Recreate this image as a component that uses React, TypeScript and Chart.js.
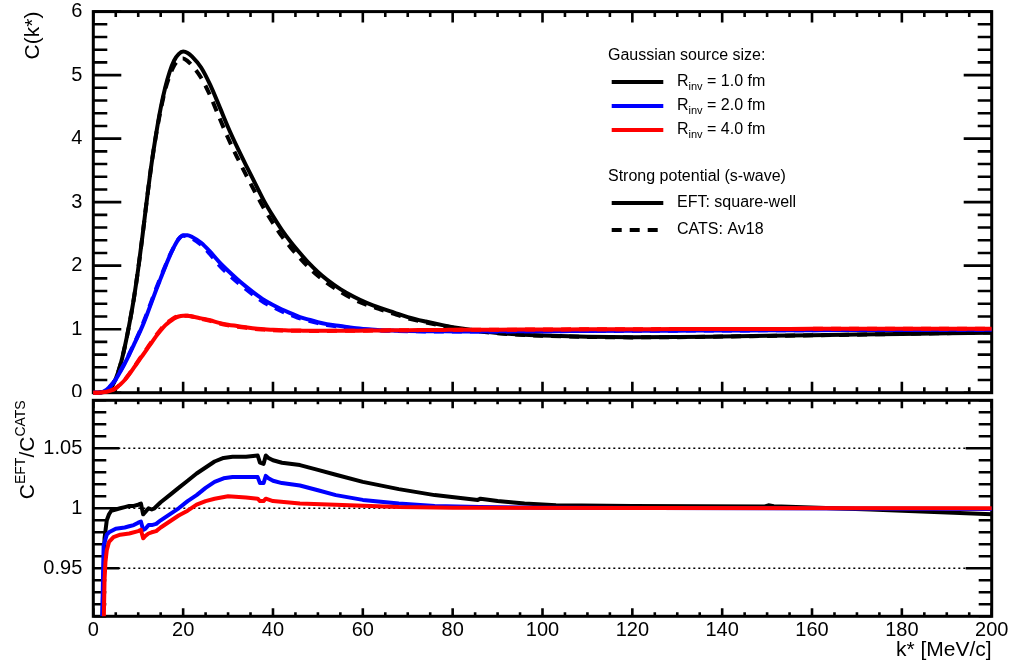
import React, { useEffect, useRef } from "react";
import { Chart, registerables } from "chart.js";

Chart.register(...registerables);

const FONT = "'Liberation Sans', Arial, Helvetica, sans-serif";
const W = 1013;
const TOP_H = 397;
const BOT_TOP = 396;
const BOT_H = 665 - BOT_TOP;

// ---------- upper panel: correlation function C(k*) ----------
const K_TOP = [0, 1, 2, 3, 4, 5, 6, 7, 8, 9, 10, 11, 12, 13, 14, 15, 16, 17, 18, 19, 20, 21, 22,
  24, 26, 28, 30, 32, 34, 36, 38, 40, 42, 44, 46, 48, 50, 52,
  55, 58, 61, 64, 67, 70, 74, 78, 82, 86, 90, 95, 100,
  110, 120, 130, 140, 150, 160, 170, 180, 190, 200];

const C_R1_EFT = [0, 0, 0.01, 0.03, 0.09, 0.22, 0.43, 0.72, 1.07, 1.47, 1.95, 2.5, 3.08, 3.62, 4.08, 4.48, 4.8, 5.05, 5.23, 5.33, 5.37, 5.35, 5.29,
  5.12, 4.85, 4.52, 4.18, 3.87, 3.58, 3.3, 3.02, 2.78, 2.56, 2.37, 2.2, 2.04, 1.9, 1.78,
  1.63, 1.51, 1.41, 1.33, 1.26, 1.19, 1.12, 1.06, 1.01, 0.97, 0.94, 0.915, 0.9,
  0.88, 0.873, 0.876, 0.885, 0.895, 0.905, 0.915, 0.925, 0.935, 0.945];

const C_R1_CATS = [0, 0, 0.01, 0.03, 0.09, 0.22, 0.43, 0.72, 1.07, 1.47, 1.95, 2.5, 3.08, 3.62, 4.07, 4.45, 4.77, 4.99, 5.15, 5.24, 5.26, 5.22, 5.15,
  4.96, 4.68, 4.34, 4.01, 3.71, 3.43, 3.16, 2.9, 2.67, 2.46, 2.28, 2.12, 1.97, 1.84, 1.73,
  1.59, 1.47, 1.38, 1.31, 1.24, 1.17, 1.107, 1.05, 1.0, 0.963, 0.934, 0.911, 0.897,
  0.878, 0.871, 0.874, 0.883, 0.893, 0.903, 0.914, 0.926, 0.937, 0.95];

const C_R2_EFT = [0, 0, 0.01, 0.05, 0.12, 0.21, 0.33, 0.46, 0.6, 0.75, 0.9, 1.06, 1.24, 1.43, 1.62, 1.8, 1.98, 2.15, 2.3, 2.42, 2.48, 2.48, 2.45,
  2.36, 2.22, 2.06, 1.92, 1.79, 1.67, 1.56, 1.46, 1.38, 1.31, 1.25, 1.19, 1.15, 1.11, 1.08,
  1.05, 1.02, 1.0, 0.985, 0.977, 0.972, 0.968, 0.966, 0.965, 0.965, 0.966, 0.967, 0.968,
  0.971, 0.974, 0.977, 0.98, 0.982, 0.985, 0.987, 0.989, 0.991, 0.992];

const C_R2_CATS = [0, 0, 0.01, 0.05, 0.12, 0.21, 0.34, 0.47, 0.61, 0.76, 0.91, 1.08, 1.26, 1.45, 1.64, 1.82, 1.99, 2.16, 2.3, 2.42, 2.47, 2.46, 2.43,
  2.33, 2.18, 2.01, 1.87, 1.745, 1.63, 1.52, 1.42, 1.35, 1.28, 1.225, 1.17, 1.13, 1.095, 1.067,
  1.039, 1.012, 0.993, 0.98, 0.973, 0.968, 0.965, 0.964, 0.963, 0.964, 0.965, 0.966, 0.968,
  0.971, 0.974, 0.977, 0.98, 0.982, 0.985, 0.987, 0.989, 0.991, 0.992];

const C_R4_EFT = [0, 0, 0.005, 0.015, 0.035, 0.07, 0.13, 0.2, 0.29, 0.39, 0.49, 0.59, 0.69, 0.79, 0.89, 0.98, 1.06, 1.12, 1.17, 1.2, 1.21, 1.21, 1.2,
  1.17, 1.14, 1.1, 1.07, 1.05, 1.03, 1.01, 1.0, 0.99, 0.985, 0.98, 0.978, 0.976, 0.975, 0.975,
  0.976, 0.977, 0.978, 0.98, 0.983, 0.985, 0.987, 0.989, 0.991, 0.992, 0.993, 0.994, 0.995,
  0.998, 1.0, 1.002, 1.003, 1.004, 1.005, 1.006, 1.007, 1.008, 1.008];

const C_R4_CATS = [0, 0, 0.005, 0.015, 0.036, 0.072, 0.133, 0.204, 0.296, 0.397, 0.5, 0.605, 0.703, 0.805, 0.905, 0.996, 1.075, 1.132, 1.18, 1.207, 1.213, 1.212, 1.199,
  1.165, 1.133, 1.091, 1.06, 1.04, 1.021, 1.003, 0.993, 0.984, 0.98, 0.976, 0.974, 0.973, 0.972, 0.973,
  0.974, 0.975, 0.977, 0.979, 0.982, 0.984, 0.986, 0.988, 0.99, 0.991, 0.992, 0.993, 0.995,
  0.998, 1.0, 1.002, 1.003, 1.004, 1.005, 1.006, 1.007, 1.008, 1.008];

// ---------- lower panel: ratio C_EFT / C_CATS ----------
const K_RATIO_R1 = [2.0, 2.5, 3.0, 3.5, 4.0, 5.0, 6.0, 7.0, 8.0, 9.0, 10.0, 10.6, 11.1, 11.6, 12.3, 13.0, 13.6, 15.0, 17.0, 19.0,
  21.0, 23.0, 25.0, 27.0, 29.0, 31.0, 34.0, 36.6, 37.1, 37.9, 38.4, 39.0, 40.0, 42.0, 46.0, 50.0, 54.0, 60.0, 68.0, 76.0,
  85.6, 86.2, 90.0, 96.0, 103.0, 120.0, 135.0, 149.5, 150.3, 151.5, 173.0, 200.0];
const RATIO_R1 = [0.905, 0.975, 0.99, 0.995, 0.998, 0.999, 1.0, 1.001, 1.002, 1.002, 1.003, 1.004, 0.995, 0.997, 1.0, 0.999, 1.0, 1.005, 1.011, 1.017,
  1.023, 1.029, 1.034, 1.039, 1.042, 1.043, 1.043, 1.044, 1.038, 1.037, 1.044, 1.042, 1.04, 1.038, 1.036, 1.032, 1.028, 1.022, 1.016, 1.011,
  1.007, 1.008, 1.006, 1.004, 1.0025, 1.002, 1.0017, 1.0015, 1.0025, 1.0017, 0.999, 0.995];

const K_RATIO_R2 = [2.0, 2.3, 3.0, 3.5, 5.0, 7.0, 8.0, 9.0, 10.0, 10.6, 11.1, 11.6, 12.3, 13.0, 14.0, 15.0, 17.0, 19.0, 21.0, 23.0,
  25.0, 27.0, 29.0, 31.0, 34.0, 36.6, 37.1, 37.9, 38.4, 39.0, 40.0, 42.0, 46.0, 50.0, 54.0, 60.0, 68.0, 76.0, 86.0, 100.0, 150.0, 200.0];
const RATIO_R2 = [0.91, 0.969, 0.978, 0.98, 0.983, 0.984, 0.985, 0.986, 0.988, 0.989, 0.982, 0.983, 0.986, 0.986, 0.987, 0.99, 0.995, 1.0, 1.006, 1.011,
  1.017, 1.022, 1.025, 1.026, 1.026, 1.026, 1.021, 1.021, 1.027, 1.025, 1.023, 1.021, 1.019, 1.015, 1.011, 1.007, 1.004, 1.002, 1.001, 1.0005, 1.0, 0.9995];

const K_RATIO_R4 = [2.2, 2.5, 2.7, 3.0, 3.5, 4.5, 6.0, 8.0, 10.0, 10.6, 11.1, 11.6, 12.3, 13.0, 14.0, 15.0, 17.0, 19.0, 21.0, 23.0,
  25.0, 27.0, 30.0, 34.0, 36.6, 37.1, 37.9, 38.4, 40.0, 46.0, 57.0, 68.0, 80.0, 120.0, 200.0];
const RATIO_R4 = [0.88, 0.94, 0.955, 0.965, 0.972, 0.976, 0.978, 0.979, 0.981, 0.982, 0.975, 0.977, 0.979, 0.98, 0.981, 0.984, 0.989, 0.994, 0.998, 1.003,
  1.006, 1.008, 1.01, 1.009, 1.008, 1.006, 1.006, 1.008, 1.006, 1.004, 1.0025, 1.001, 1.0005, 1.0002, 1.0];

// ---------- ticks ----------
const X_TICKS = [0, 20, 40, 60, 80, 100, 120, 140, 160, 180, 200];
const TOP_Y_TICKS = [0, 1, 2, 3, 4, 5, 6];
const BOT_Y_TICKS = [0.95, 1, 1.05];
const BOT_Y_LABELS = ["0.95", "1", "1.05"];
const BOT_GRID = [0.95, 1, 1.05];

const LEGEND_SIZES = ["1.0", "2.0", "4.0"];

type Part = { t: string; size: number; dy?: number };

function richWidth(ctx: CanvasRenderingContext2D, parts: Part[]) {
  let w = 0;
  for (const p of parts) {
    ctx.font = `${p.size}px ${FONT}`;
    w += ctx.measureText(p.t).width;
  }
  return w;
}

function drawRich(ctx: CanvasRenderingContext2D, parts: Part[], x: number, y: number) {
  let cx = x;
  ctx.textAlign = "left";
  for (const p of parts) {
    ctx.font = `${p.size}px ${FONT}`;
    ctx.fillText(p.t, cx, y + (p.dy || 0));
    cx += ctx.measureText(p.t).width;
  }
}

function framePlugin(cfg: any) {
  return {
    id: "frameTicks",
    beforeDatasetsDraw(chart: any) {
      const { ctx, chartArea: a } = chart;
      const xs = chart.scales.x;
      const ys = chart.scales.y;
      ctx.save();
      if (cfg.grid) {
        ctx.strokeStyle = "#000";
        ctx.lineWidth = 1.4;
        ctx.setLineDash([2, 3]);
        for (const v of cfg.grid) {
          const y = ys.getPixelForValue(v);
          ctx.beginPath();
          ctx.moveTo(a.left, y);
          ctx.lineTo(a.right, y);
          ctx.stroke();
        }
        ctx.setLineDash([]);
      }
      ctx.strokeStyle = "#000";
      ctx.lineWidth = 2.6;
      ctx.beginPath();
      const nx = Math.round((cfg.xMax - cfg.xMin) / cfg.xStep);
      for (let i = 0; i <= nx; i++) {
        const v = cfg.xMin + i * cfg.xStep;
        const px = xs.getPixelForValue(v);
        const len = i % cfg.xMajorEvery === 0 ? cfg.xMajorLen : cfg.xMinorLen;
        ctx.moveTo(px, a.bottom);
        ctx.lineTo(px, a.bottom - len);
        ctx.moveTo(px, a.top);
        ctx.lineTo(px, a.top + len);
      }
      const ny = Math.round((cfg.yMax - cfg.yMin) / cfg.yStep);
      for (let i = 0; i <= ny; i++) {
        const v = cfg.yMin + i * cfg.yStep;
        const py = ys.getPixelForValue(v);
        const len = cfg.yIsMajor(i) ? cfg.yMajorLen : cfg.yMinorLen;
        ctx.moveTo(a.left, py);
        ctx.lineTo(a.left + len, py);
        ctx.moveTo(a.right, py);
        ctx.lineTo(a.right - len, py);
      }
      ctx.stroke();
      ctx.lineWidth = 3;
      ctx.strokeRect(a.left, a.top, a.right - a.left, a.bottom - a.top);
      ctx.restore();
    },
    afterDraw(chart: any) {
      if (cfg.extra) cfg.extra(chart.ctx, chart);
    },
  };
}

function pts(xs: number[], ys: number[]) {
  return xs.map((x, i) => ({ x, y: ys[i] }));
}

function lineDs(label: string, data: any[], color: string, dashed: boolean, smooth: boolean, clip: any) {
  return {
    label,
    data,
    borderColor: color,
    backgroundColor: color,
    borderWidth: 4,
    borderDash: dashed ? [10, 8] : [],
    pointRadius: 0,
    fill: false,
    tension: 0,
    cubicInterpolationMode: smooth ? "monotone" : "default",
    borderJoinStyle: "round",
    clip,
  };
}

const tickFont = { family: FONT, size: 20 };

function noPad(s: any) {
  s.paddingTop = 0;
  s.paddingBottom = 0;
  s.paddingLeft = 0;
  s.paddingRight = 0;
}

function drawTopExtras(ctx: CanvasRenderingContext2D, chart: any) {
  const a = chart.chartArea;
  ctx.save();
  ctx.fillStyle = "#000";
  // y title
  ctx.save();
  ctx.translate(39, a.top);
  ctx.rotate(-Math.PI / 2);
  ctx.font = `21px ${FONT}`;
  ctx.textAlign = "right";
  ctx.textBaseline = "alphabetic";
  ctx.fillText("C(k*)", 0, 0);
  ctx.restore();

  // legend
  ctx.textBaseline = "middle";
  ctx.font = `16px ${FONT}`;
  ctx.textAlign = "left";
  ctx.fillText("Gaussian source size:", 608, 56);
  const colors = ["#000000", "#0000ff", "#ff0000"];
  const rows = [82, 106, 130];
  for (let i = 0; i < 3; i++) {
    ctx.strokeStyle = colors[i];
    ctx.lineWidth = 4;
    ctx.setLineDash([]);
    ctx.beginPath();
    ctx.moveTo(611.7, rows[i]);
    ctx.lineTo(663.3, rows[i]);
    ctx.stroke();
    drawRich(ctx, [
      { t: "R", size: 16 },
      { t: "inv", size: 11, dy: 5 },
      { t: " = " + LEGEND_SIZES[i] + " fm", size: 16 },
    ], 677, rows[i]);
  }
  ctx.font = `16px ${FONT}`;
  ctx.fillText("Strong potential (s-wave)", 608, 177);
  ctx.strokeStyle = "#000";
  ctx.lineWidth = 4;
  ctx.beginPath();
  ctx.moveTo(611.7, 203);
  ctx.lineTo(663.3, 203);
  ctx.stroke();
  ctx.fillText("EFT: square-well", 677, 203);
  ctx.setLineDash([10, 8]);
  ctx.beginPath();
  ctx.moveTo(611.7, 230);
  ctx.lineTo(663.3, 230);
  ctx.stroke();
  ctx.setLineDash([]);
  ctx.fillText("CATS: Av18", 677, 230);
  ctx.restore();
}

function drawBotExtras(ctx: CanvasRenderingContext2D, chart: any) {
  const a = chart.chartArea;
  ctx.save();
  ctx.fillStyle = "#000";
  ctx.textBaseline = "alphabetic";
  // y title (rotated, superscripts)
  const parts: Part[] = [
    { t: "C", size: 21 },
    { t: "EFT", size: 14, dy: -9 },
    { t: "/C", size: 21 },
    { t: "CATS", size: 14, dy: -9 },
  ];
  const w = richWidth(ctx, parts);
  ctx.save();
  ctx.translate(34, a.top);
  ctx.rotate(-Math.PI / 2);
  drawRich(ctx, parts, -w, 0);
  ctx.restore();
  // x title
  ctx.font = `21px ${FONT}`;
  ctx.textAlign = "right";
  ctx.fillText("k* [MeV/c]", a.right, 656 - BOT_TOP);
  ctx.restore();
}

function topConfig(): any {
  const clip = false;
  return {
    type: "line",
    data: {
      datasets: [
        lineDs("R = 4.0 fm EFT", pts(K_TOP, C_R4_EFT), "#ff0000", false, true, clip),
        lineDs("R = 4.0 fm CATS", pts(K_TOP, C_R4_CATS), "#ff0000", true, true, clip),
        lineDs("R = 2.0 fm EFT", pts(K_TOP, C_R2_EFT), "#0000ff", false, true, clip),
        lineDs("R = 2.0 fm CATS", pts(K_TOP, C_R2_CATS), "#0000ff", true, true, clip),
        lineDs("R = 1.0 fm EFT", pts(K_TOP, C_R1_EFT), "#000000", false, true, clip),
        lineDs("R = 1.0 fm CATS", pts(K_TOP, C_R1_CATS), "#000000", true, true, clip),
      ],
    },
    options: {
      animation: false,
      responsive: false,
      maintainAspectRatio: false,
      events: [],
      layout: { padding: { top: 11.6, right: W - 991.7, left: 0, bottom: 0 } },
      plugins: { legend: { display: false }, tooltip: { enabled: false } },
      scales: {
        x: {
          type: "linear",
          min: 0,
          max: 200,
          grid: { display: false, drawTicks: false },
          border: { display: false },
          ticks: { display: false },
          afterFit: (s: any) => { s.height = TOP_H - 392.7; noPad(s); },
        },
        y: {
          type: "linear",
          min: 0,
          max: 6,
          grid: { display: false, drawTicks: false },
          border: { display: false },
          afterBuildTicks: (s: any) => { s.ticks = TOP_Y_TICKS.map((v) => ({ value: v })); },
          ticks: {
            font: tickFont,
            color: "#000",
            padding: 11,
            callback: (v: any) => String(v),
          },
          afterFit: (s: any) => { s.width = 93.3; noPad(s); },
        },
      },
    },
    plugins: [
      framePlugin({
        xMin: 0, xMax: 200, xStep: 5, xMajorEvery: 4, xMajorLen: 11, xMinorLen: 5.5,
        yMin: 0, yMax: 6, yStep: 0.2, yIsMajor: (i: number) => i % 5 === 0, yMajorLen: 28, yMinorLen: 14,
        extra: drawTopExtras,
      }),
    ],
  };
}

function botConfig(): any {
  const clip = { left: 5, right: 5, top: 5, bottom: 0 };
  return {
    type: "line",
    data: {
      datasets: [
        lineDs("R = 4.0 fm", pts(K_RATIO_R4, RATIO_R4), "#ff0000", false, false, clip),
        lineDs("R = 2.0 fm", pts(K_RATIO_R2, RATIO_R2), "#0000ff", false, false, clip),
        lineDs("R = 1.0 fm", pts(K_RATIO_R1, RATIO_R1), "#000000", false, false, clip),
      ],
    },
    options: {
      animation: false,
      responsive: false,
      maintainAspectRatio: false,
      events: [],
      layout: { padding: { top: 400.3 - BOT_TOP, right: W - 991.7, left: 0, bottom: 0 } },
      plugins: { legend: { display: false }, tooltip: { enabled: false } },
      scales: {
        x: {
          type: "linear",
          min: 0,
          max: 200,
          grid: { display: false, drawTicks: false },
          border: { display: false },
          afterBuildTicks: (s: any) => { s.ticks = X_TICKS.map((v) => ({ value: v })); },
          ticks: {
            font: tickFont,
            color: "#000",
            padding: 2,
            maxRotation: 0,
            autoSkip: false,
            callback: (v: any) => String(v),
          },
          afterFit: (s: any) => { s.height = BOT_H - (616.3 - BOT_TOP); noPad(s); },
        },
        y: {
          type: "linear",
          min: 0.91,
          max: 1.09,
          grid: { display: false, drawTicks: false },
          border: { display: false },
          afterBuildTicks: (s: any) => { s.ticks = BOT_Y_TICKS.map((v) => ({ value: v })); },
          ticks: {
            font: tickFont,
            color: "#000",
            padding: 11,
            callback: (_v: any, i: number) => BOT_Y_LABELS[i],
          },
          afterFit: (s: any) => { s.width = 93.3; noPad(s); },
        },
      },
    },
    plugins: [
      framePlugin({
        grid: BOT_GRID,
        xMin: 0, xMax: 200, xStep: 5, xMajorEvery: 4, xMajorLen: 8, xMinorLen: 4,
        yMin: 0.91, yMax: 1.09, yStep: 0.01, yIsMajor: (i: number) => (91 + i) % 5 === 0, yMajorLen: 26, yMinorLen: 13,
        extra: drawBotExtras,
      }),
    ],
  };
}

export default function App() {
  const topRef = useRef<HTMLCanvasElement>(null);
  const botRef = useRef<HTMLCanvasElement>(null);
  useEffect(() => {
    const top = new Chart(topRef.current as HTMLCanvasElement, topConfig());
    const bot = new Chart(botRef.current as HTMLCanvasElement, botConfig());
    return () => {
      top.destroy();
      bot.destroy();
    };
  }, []);
  return (
    <div style={{ position: "absolute", left: 0, top: 0, width: W, height: 665, background: "#fff" }}>
      <canvas ref={topRef} width={W} height={TOP_H}
        style={{ position: "absolute", left: 0, top: 0, width: W, height: TOP_H }} />
      <canvas ref={botRef} width={W} height={BOT_H}
        style={{ position: "absolute", left: 0, top: BOT_TOP, width: W, height: BOT_H }} />
    </div>
  );
}
